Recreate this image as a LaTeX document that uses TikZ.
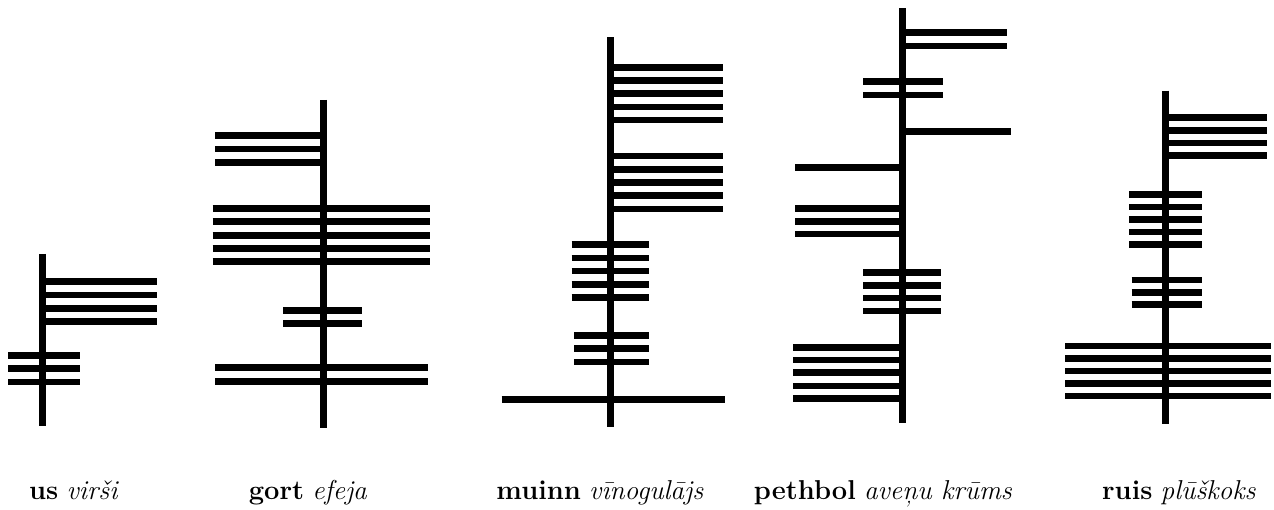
\documentclass[tikz,border=0pt]{standalone}
\begin{document}
\begin{tikzpicture}[x=1pt,y=-1pt,
  stem/.style={line width=7pt,line cap=butt},
  bar/.style={line width=6.5pt,line cap=butt},
  lbl/.style={anchor=base,inner sep=0pt,font=\fontsize{27.3}{32}\selectfont}]
\useasboundingbox (0,0) rectangle (1274,510);
% us
\coordinate (us1) at (42.7,254); \coordinate (us2) at (42.7,426);
\draw[stem] (us1) -- (us2);
\foreach \y in {281.7,295,308.3,321.7} \draw[bar] (42.7,\y) -- (157,\y);
\foreach \y in {355.7,368.7,382} \draw[bar] (8.3,\y) -- (80,\y);
% gort
\coordinate (g1) at (323.3,100); \coordinate (g2) at (323.3,428);
\draw[stem] (g1) -- (g2);
\foreach \y in {135.7,149,162.3} \draw[bar] (215,\y) -- (323.3,\y);
\foreach \y in {208.3,221.7,235.3,248.7,261.7} \draw[bar] (212.7,\y) -- (430,\y);
\foreach \y in {310.7,323.3} \draw[bar] (283.3,\y) -- (362.3,\y);
\foreach \y in {367.7,381.7} \draw[bar] (215,\y) -- (428.3,\y);
% muinn
\coordinate (m1) at (610.7,37.3); \coordinate (m2) at (610.7,426.7);
\draw[stem] (m1) -- (m2);
\foreach \y in {67.3,80.7,93.7,107,120,156,169.3,182.3,195.7,209} \draw[bar] (610.7,\y) -- (722.7,\y);
\foreach \y in {244.3,258,271,284.3,297.7} \draw[bar] (571.7,\y) -- (649.3,\y);
\foreach \y in {335.3,348.3,362} \draw[bar] (574.3,\y) -- (649.3,\y);
\draw[bar] (501.7,399.3) -- (725,399.3);
% pethbol
\coordinate (p1) at (902.7,8.3); \coordinate (p2) at (902.7,422.7);
\draw[stem] (p1) -- (p2);
\foreach \y in {32.7,46} \draw[bar] (902.7,\y) -- (1006.7,\y);
\foreach \y in {81.7,95} \draw[bar] (863.3,\y) -- (942.7,\y);
\draw[bar] (902.7,131.7) -- (1010.7,131.7);
\foreach \y in {167.3,208.7,221.3,234} \draw[bar] (795,\y) -- (902.7,\y);
\foreach \y in {272.7,285.3,298,311} \draw[bar] (863.3,\y) -- (940.7,\y);
\foreach \y in {347.3,360,372.7,386,398.3} \draw[bar] (793.3,\y) -- (902.7,\y);
% ruis
\coordinate (r1) at (1165.7,90.7); \coordinate (r2) at (1165.7,424);
\draw[stem] (r1) -- (r2);
\foreach \y in {117.7,130.7,143,155.7} \draw[bar] (1165.7,\y) -- (1266.7,\y);
\foreach \y in {194.3,207,219.3,232,244.3} \draw[bar] (1129.3,\y) -- (1202,\y);
\foreach \y in {280,292.3,304.7} \draw[bar] (1131.7,\y) -- (1202,\y);
\foreach \y in {346,358.3,371,383.3,396} \draw[bar] (1065,\y) -- (1270.7,\y);
% labels
\node[lbl] (lus) at (74,499) {\textbf{us} \textit{virši}};
\node[lbl] (lgort) at (308,499) {\textbf{gort} \textit{efeja}};
\node[lbl] (lmuinn) at (600,499) {\textbf{muinn} \textit{vīnogulājs}};
\node[lbl] (lpeth) at (883,499) {\textbf{pethbol} \textit{aveņu krūms}};
\node[lbl] (lruis) at (1179,499) {\textbf{ruis} \textit{plūškoks}};
\end{tikzpicture}
\end{document}
